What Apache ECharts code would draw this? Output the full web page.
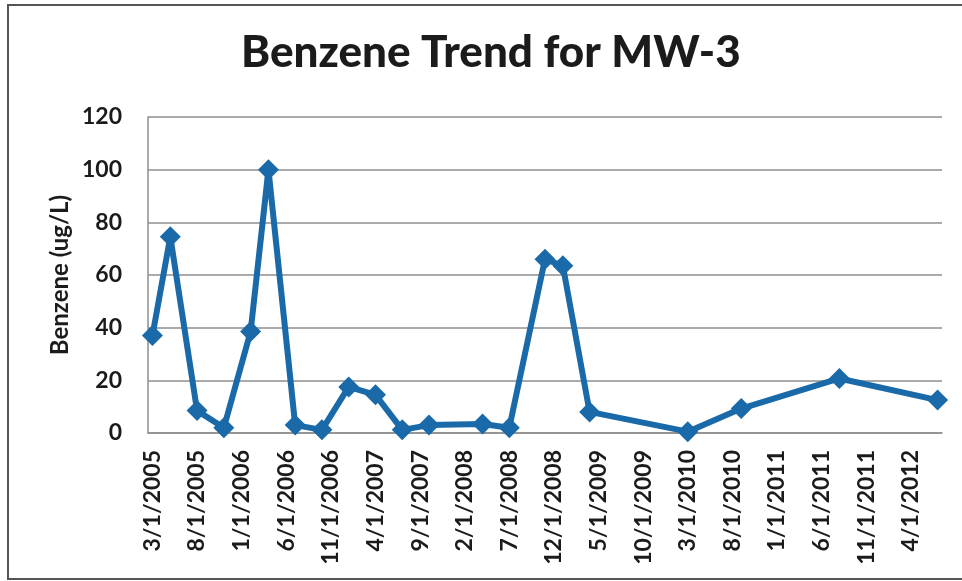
<!DOCTYPE html>
<html>
<head>
<meta charset="utf-8">
<script src="https://cdn.jsdelivr.net/npm/echarts@6/dist/echarts.min.js"></script>
<style>
  html, body { margin: 0; padding: 0; background: #fff; }
  #main { width: 962px; height: 581px; }
</style>
</head>
<body>
<div id="main"></div>
<script>
// sample months (month/year) and benzene results, ug/L
let sampleMonths = ['3/2005', '5/2005', '8/2005', '11/2005', '2/2006', '4/2006', '7/2006',
  '10/2006', '1/2007', '4/2007', '7/2007', '10/2007', '4/2008', '7/2008', '11/2008',
  '1/2009', '4/2009', '3/2010', '9/2010', '8/2011', '7/2012']
let benzene = [37, 74.5, 8.5, 2, 38.5, 100, 3, 1.2, 17.5, 14.5, 1.2, 3, 3.4, 2, 66,
  63.5, 8, 0.5, 9.3, 20.7, 12.5]

// date axis runs by month, labels every 5 months
let axisStart = [2005, 3]
let axisEnd = [2012, 7]

let months = []
for (let y = axisStart[0], m = axisStart[1]; y < axisEnd[0] || (y === axisEnd[0] && m <= axisEnd[1]); ) {
  months.push(m + '/' + y)
  m++
  if (m > 12) { m = 1; y++ }
}
let categories = months.map(function (s) {
  let p = s.split('/')
  return p[0] + '/1/' + p[1]
})
let values = months.map(function (s) {
  let i = sampleMonths.indexOf(s)
  return i >= 0 ? benzene[i] : null
})

var myChart = echarts.init(document.getElementById('main'))

var lineBlue = '#1a6aa9'
var gridGray = '#8e8e8e'
var textColor = '#1b1b1b'

var option = {
  backgroundColor: '#ffffff',
  animation: false,
  title: {
    text: 'Benzene Trend for MW-3',
    left: 236,
    top: 26,
    textStyle: {
      fontFamily: 'Lato',
      fontWeight: 900,
      fontSize: 44,
      color: textColor
    }
  },
  graphic: [{
    type: 'rect',
    shape: { x: 8, y: 5, width: 980, height: 574 },
    style: { fill: 'none', stroke: '#555', lineWidth: 2 },
    silent: true
  }, {
    // y axis title
    type: 'text',
    x: 60,
    y: 275,
    rotation: Math.PI / 2,
    style: {
      text: 'Benzene (ug/L)',
      align: 'center',
      verticalAlign: 'middle',
      fontFamily: 'Lato',
      fontWeight: 'bold',
      fontSize: 24,
      fill: textColor
    },
    silent: true
  }],
  grid: {
    left: 148,
    right: 20,
    top: 117,
    bottom: 148
  },
  xAxis: {
    type: 'category',
    data: categories,
    boundaryGap: true,
    axisLine: { lineStyle: { color: gridGray, width: 1.5 } },
    axisTick: { show: false },
    axisLabel: {
      interval: 4,
      rotate: 90,
      margin: 17,
      fontFamily: 'Lato',
      fontWeight: 'bold',
      fontSize: 23,
      color: textColor
    },
    splitLine: { show: false }
  },
  yAxis: {
    type: 'value',
    min: 0,
    max: 120,
    interval: 20,
    axisLine: { show: true, lineStyle: { color: gridGray, width: 1.5 } },
    axisTick: { show: false },
    axisLabel: {
      margin: 26,
      fontFamily: 'Lato',
      fontWeight: 'bold',
      fontSize: 23,
      color: textColor
    },
    splitLine: { lineStyle: { color: gridGray, width: 1.5 } }
  },
  series: [{
    name: 'Benzene',
    type: 'line',
    data: values,
    connectNulls: true,
    showAllSymbol: true,
    symbol: 'diamond',
    symbolSize: 21,
    lineStyle: { color: lineBlue, width: 6 },
    itemStyle: { color: lineBlue }
  }]
}

myChart.setOption(option)
</script>
</body>
</html>
